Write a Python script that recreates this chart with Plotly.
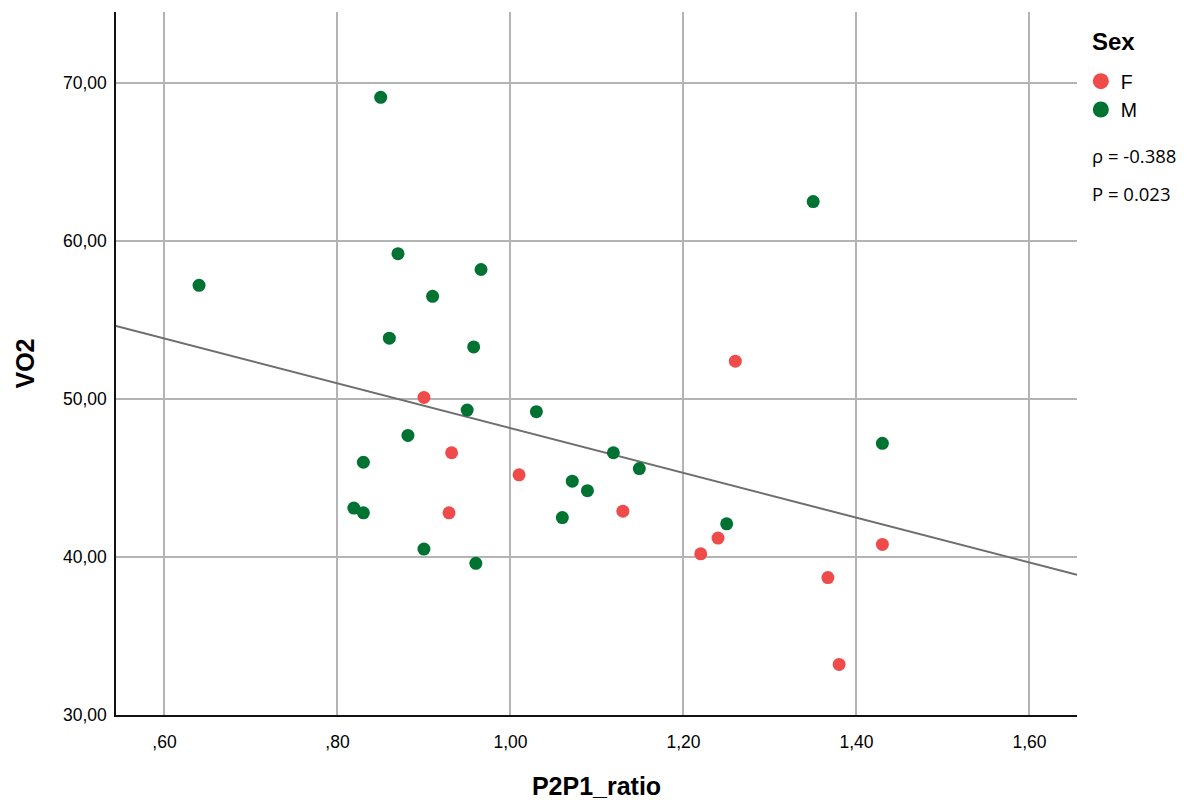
import numpy as np
import plotly.graph_objects as go

# Data
f_ratio = [0.90, 0.932, 0.929, 1.26, 1.01, 1.13, 1.24, 1.22, 1.43, 1.367, 1.38]
f_vo2 = [50.1, 46.6, 42.8, 52.4, 45.2, 42.9, 41.2, 40.2, 40.8, 38.7, 33.2]

m_ratio = [0.85, 0.87, 0.966, 0.64, 0.91, 0.86, 0.9575, 0.95, 0.8815, 0.83, 0.819,
           0.83, 0.90, 0.96, 1.03, 1.43, 1.119, 1.149, 1.0715, 1.089, 1.06, 1.25, 1.35]
m_vo2 = [69.1, 59.2, 58.2, 57.2, 56.5, 53.85, 53.3, 49.3, 47.7, 46.0, 43.1,
         42.8, 40.5, 39.6, 49.2, 47.2, 46.6, 45.6, 44.8, 44.2, 42.5, 42.1, 62.5]

x_ticks = [0.6, 0.8, 1.0, 1.2, 1.4, 1.6]
x_ticktext = [",60", ",80", "1,00", "1,20", "1,40", "1,60"]
y_ticks = [30, 40, 50, 60, 70]
y_ticktext = ["30,00", "40,00", "50,00", "60,00", "70,00"]

legend_title = "Sex"
rho_text = "ρ = -0.388"
p_text = "P = 0.023"

x_range = [0.544, 1.655]
y_range = [30, 74.5]

# Overall linear fit
all_x = np.array(f_ratio + m_ratio)
all_y = np.array(f_vo2 + m_vo2)
slope, intercept = np.polyfit(all_x, all_y, 1)
fit_x = np.array(x_range)
fit_y = intercept + slope * fit_x

RED = "#F04B4B"
GREEN = "#007232"

fig = go.Figure()
fig.add_trace(go.Scatter(x=fit_x, y=fit_y, mode="lines",
                         line=dict(color="#6E6E6E", width=2),
                         showlegend=False, hoverinfo="skip"))
fig.add_trace(go.Scatter(x=f_ratio, y=f_vo2, mode="markers", name="F",
                         legendgroup="F", showlegend=False,
                         marker=dict(color=RED, size=13)))
fig.add_trace(go.Scatter(x=m_ratio, y=m_vo2, mode="markers", name="M",
                         legendgroup="M", showlegend=False,
                         marker=dict(color=GREEN, size=13)))
# legend entries with larger symbols
fig.add_trace(go.Scatter(x=[None], y=[None], mode="markers", name="F",
                         legendgroup="F", marker=dict(color=RED, size=20)))
fig.add_trace(go.Scatter(x=[None], y=[None], mode="markers", name="M",
                         legendgroup="M", marker=dict(color=GREEN, size=20)))

font_family = "Liberation Sans, Arial, sans-serif"
PH = 800 - 12 - 85  # plot height in px

def ypx(py):
    return 1 - (py - 12) / PH

fig.update_layout(
    width=1189, height=800,
    margin=dict(l=116, r=112, t=12, b=85, autoexpand=False),
    paper_bgcolor="white", plot_bgcolor="white",
    font=dict(family=font_family, color="black", size=18),
    xaxis=dict(range=x_range, tickvals=x_ticks, ticktext=x_ticktext,
               showgrid=True, gridcolor="#B4B4B4", gridwidth=1.5,
               showline=True, linecolor="#111111", linewidth=1.5,
               zeroline=False, ticks="", ticklen=0, ticklabelstandoff=10,
               tickfont=dict(size=17.5), automargin=False,
               title=dict(text="<b>P2P1_ratio</b>", font=dict(size=25), standoff=30)),
    yaxis=dict(range=y_range, tickvals=y_ticks, ticktext=y_ticktext,
               showgrid=True, gridcolor="#B4B4B4", gridwidth=1.5,
               showline=True, linecolor="#111111", linewidth=1.5,
               zeroline=False, ticks="", ticklen=0, ticklabelstandoff=4,
               tickfont=dict(size=17.5), automargin=False,
               title=dict(text="<b>VO2</b>", font=dict(size=25), standoff=21)),
    legend=dict(x=1.004, y=ypx(62), xanchor="left", yanchor="top",
                font=dict(size=19.5), itemsizing="trace",
                bgcolor="rgba(0,0,0,0)", tracegroupgap=0),
    annotations=[
        dict(text="<b>" + legend_title + "</b>", xref="paper", yref="paper",
             x=1.014, y=ypx(42), xanchor="left", yanchor="middle", showarrow=False,
             font=dict(size=24)),
        dict(text=rho_text, xref="paper", yref="paper", x=1.0135, y=ypx(155),
             xanchor="left", yanchor="middle", showarrow=False,
             font=dict(size=18.5, family="Open Sans, sans-serif")),
        dict(text=p_text, xref="paper", yref="paper", x=1.0135, y=ypx(193),
             xanchor="left", yanchor="middle", showarrow=False,
             font=dict(size=18.5, family="Open Sans, sans-serif")),
    ],
)

fig.write_html("out.html", config={"displayModeBar": False},
               post_script="document.body.style.margin='0';")
